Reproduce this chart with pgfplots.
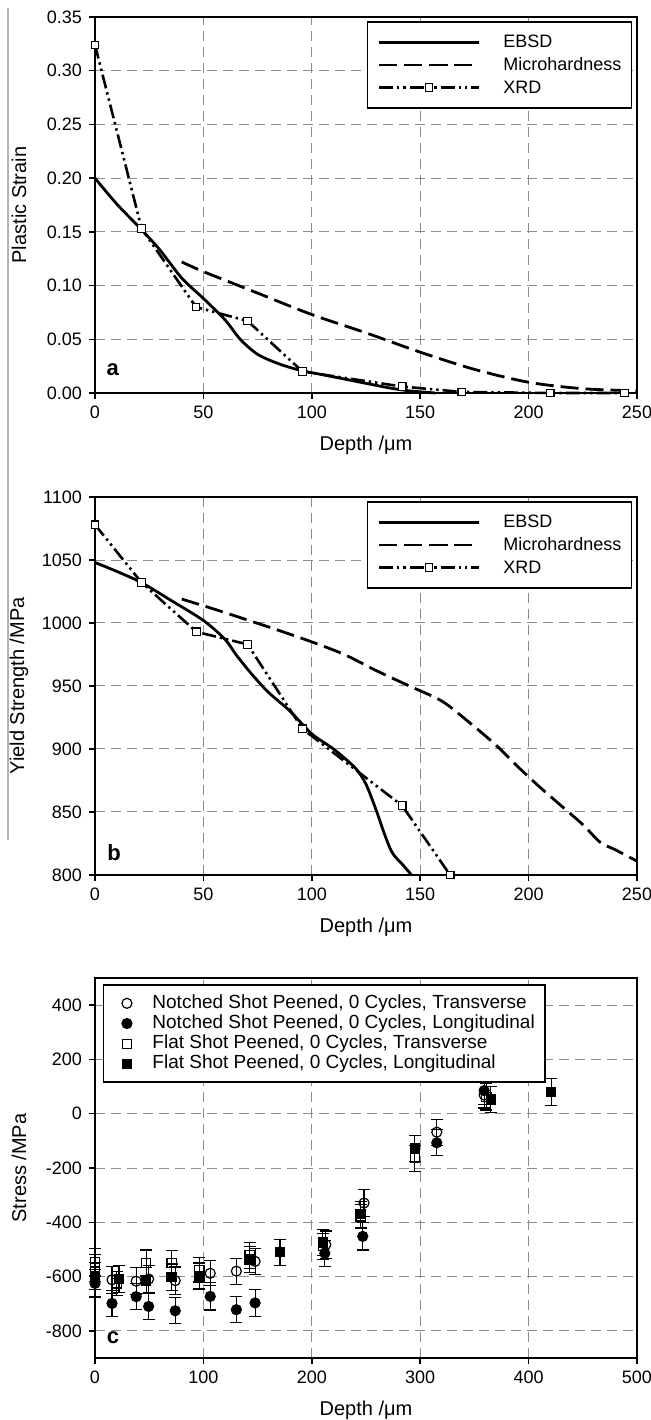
\documentclass[border=0pt]{standalone}
\usepackage{fontspec}
\setmainfont{Liberation Sans}
\usepackage{pgfplots}
\pgfplotsset{compat=1.18}

\pgfplotsset{
  panel/.style={
    scale only axis, width=271pt, height=188pt,
    axis line style={line width=0.75pt},
    every tick/.style={black, line width=0.75pt},
    tick align=outside, major tick length=3pt,
    xtick pos=bottom, ytick pos=left,
    grid=major,
    major grid style={black!45, line width=0.5pt, dash pattern=on 5pt off 3pt},
    tick label style={font=\fontsize{9}{10}\selectfont},
    /pgf/number format/assume math mode=true,
    /pgf/number format/1000 sep={},
    label style={font=\fontsize{10.5}{12}\selectfont},
    every axis y label/.style={at={(rel axis cs:0,0.5)}, xshift=-38pt, rotate=90, anchor=center},
    every axis x label/.style={at={(rel axis cs:0.5,0)}, yshift=-26pt, anchor=center},
    clip=false,
  },
  linelegend/.style={
    legend style={at={(0.991,0.989)}, anchor=north east, draw=black, line width=0.75pt, fill=white,
      font=\fontsize{9}{10}\selectfont, inner xsep=5pt, inner ysep=5pt, row sep=0.8pt,
      cells={anchor=west},
      nodes={inner xsep=0pt, inner ysep=1.5pt, text height=6.5pt, text depth=1pt},
      /tikz/column 1/.style={column sep=11.5pt}},
    legend image code/.code={\draw[mark repeat=2,mark phase=2,##1] plot coordinates {(0pt,0pt) (25pt,0pt) (50pt,0pt)};},
  },
  ebsd/.style={black, line width=1.4pt, smooth, no marks},
  micro/.style={black, line width=1.4pt, smooth, no marks, dash pattern=on 9pt off 3.5pt},
  xrd/.style={black, line width=1.3pt, dash pattern=on 7pt off 2pt on 1.2pt off 2pt on 1.2pt off 2pt,
     mark=square*, mark size=1.9pt, mark options={solid, fill=white, line width=0.6pt}},
}

\begin{document}
\begin{tikzpicture}
\path[use as bounding box] (0,0) rectangle (325.5pt,710pt);
\draw[gray!60, line width=0.6pt] (4pt,706pt) -- (4pt,290pt);

% ---------------- panel a ----------------
\begin{axis}[panel, linelegend, at={(47.5pt,513.5pt)}, anchor=south west,
  xmin=0, xmax=250, ymin=0, ymax=0.35,
  xtick={0,50,...,250}, ytick={0,0.05,...,0.35},
  yticklabel style={/pgf/number format/.cd, fixed, fixed zerofill, precision=2},
  xlabel={Depth /μm}, ylabel={Plastic Strain}]
\addplot[ebsd] coordinates {
 (0,0.200) (10,0.176) (21.5,0.152) (30,0.133) (40,0.107) (50,0.088) (60,0.068)
 (67,0.050) (75,0.036) (85,0.027) (95,0.021) (105,0.017) (120,0.011) (135,0.005)
 (145,0.002) (157,0.000)};
\addlegendentry{EBSD}
\addplot[micro] coordinates {
 (40,0.122) (50,0.113) (75,0.093) (100,0.073) (125,0.056) (150,0.038) (175,0.022)
 (200,0.010) (225,0.004) (250,0.002)};
\addlegendentry{Microhardness}
\addplot[xrd] coordinates {
 (0,0.324) (21.5,0.153) (46.6,0.080) (70.4,0.067) (95.7,0.020) (141.7,0.006)
 (169.2,0.001) (210,0.000) (244.3,0.000)};
\addlegendentry{XRD}
\node[font=\bfseries\fontsize{11}{12}\selectfont] at (axis cs:8.2,0.022) {a};
\end{axis}

% ---------------- panel b ----------------
\begin{axis}[panel, linelegend, height=189pt, at={(47.5pt,272.5pt)}, anchor=south west,
  xmin=0, xmax=250, ymin=800, ymax=1100,
  xtick={0,50,...,250}, ytick={800,850,...,1100},
  xlabel={Depth /μm}, ylabel={Yield Strength /MPa}]
\addplot[ebsd] coordinates {
 (0,1048) (10,1041) (21.5,1032) (35,1018) (50,1002) (60,987) (65,975) (72,960)
 (80,945) (90,930) (100,912) (110,900) (120,885) (125,872) (130,850) (133,835)
 (137,818) (142,808) (146,800)};
\addlegendentry{EBSD}
\addplot[micro] coordinates {
 (40,1019) (55,1011) (71,1002) (85,994) (100,985) (115,975) (130,962) (145,950)
 (160,938) (172,922) (185,903) (195,886) (205,870) (215,855) (225,840) (233,826)
 (240,820) (250,811)};
\addlegendentry{Microhardness}
\addplot[xrd] coordinates {
 (0,1078) (21.5,1032) (46.8,993) (70.4,983) (95.7,916) (141.7,855) (163.8,800)};
\addlegendentry{XRD}
\node[font=\bfseries\fontsize{11}{12}\selectfont] at (axis cs:8.8,818) {b};
\end{axis}

% ---------------- panel c ----------------
\begin{axis}[panel, height=190pt, at={(47.5pt,31pt)}, anchor=south west,
  xmin=0, xmax=500, ymin=-900, ymax=500,
  xtick={0,100,...,500}, ytick={-800,-600,...,400},
  xlabel={Depth /μm}, ylabel={Stress /MPa},
  legend style={at={(0.014,0.983)}, anchor=north west, draw=black, line width=0.75pt, fill=white,
    font=\fontsize{9.5}{11}\selectfont, inner xsep=5pt, inner ysep=4pt, row sep=0pt,
    cells={anchor=west},
    nodes={inner xsep=0pt, inner ysep=0.5pt, text height=7pt, text depth=2.1pt},
    /tikz/column 1/.style={column sep=10.25pt}},
  legend image code/.code={\path (-6.5pt,0pt); \draw[#1] plot coordinates {(0pt,0pt)};},
  every axis plot/.append style={only marks, line width=0.6pt,
     error bars/y dir=both, error bars/y explicit,
     error bars/error bar style={line width=0.6pt, solid},
     error bars/error mark options={rotate=90, mark size=3pt, line width=0.6pt}},
]
\addplot[black, mark=o, mark size=2.5pt, mark options={fill=white}] coordinates {
 (15.7,-612) +- (0,50) (38,-617) +- (0,50) (49.5,-609) +- (0,50) (74,-615) +- (0,50)
 (106.3,-588) +- (0,46) (130.4,-580) +- (0,48) (147.7,-544) +- (0,48)
 (212.9,-482) +- (0,50) (248.2,-329) +- (0,50) (315.3,-68) +- (0,48) (359,69) +- (0,48)};
\addlegendentry{Notched Shot Peened, 0 Cycles, Transverse}
\addplot[black, mark=*, mark size=2.5pt] coordinates {
 (0,-625) +- (0,50) (15.7,-699) +- (0,48) (38,-674) +- (0,48) (49.5,-710) +- (0,48)
 (74,-726) +- (0,48) (106.3,-673) +- (0,50) (130.4,-722) +- (0,48) (147.7,-697) +- (0,50)
 (212,-514) +- (0,48) (247,-452) +- (0,50) (315.3,-107) +- (0,48) (359,85) +- (0,50)};
\addlegendentry{Notched Shot Peened, 0 Cycles,  Longitudinal}
\addplot[black, mark=square, mark size=2.3pt, mark options={fill=white}] coordinates {
 (0,-548) +- (0,50) (0,-568) +- (0,50) (20,-625) +- (0,45) (47.2,-550) +- (0,48)
 (70.6,-551) +- (0,48) (96.3,-575) +- (0,45) (142.7,-522) +- (0,48) (210.2,-488) +- (0,48)
 (245,-378) +- (0,45) (295,-164) +- (0,48) (361,62) +- (0,48)};
\addlegendentry{Flat Shot Peened, 0 Cycles, Transverse}
\addplot[black, mark=square*, mark size=2.3pt] coordinates {
 (0,-598) +- (0,50) (22.2,-610) +- (0,50) (47.2,-615) +- (0,48) (70.6,-602) +- (0,48)
 (96.3,-598) +- (0,48) (142.7,-537) +- (0,48) (170.7,-510) +- (0,48) (210.2,-474) +- (0,48)
 (245,-370) +- (0,48) (295,-127) +- (0,48) (365.2,53) +- (0,48) (420.8,79) +- (0,50)};
\addlegendentry{Flat Shot Peened, 0 Cycles, Longitudinal}
\node[font=\bfseries\fontsize{11}{12}\selectfont] at (axis cs:16.5,-825) {c};
\end{axis}
\end{tikzpicture}
\end{document}
